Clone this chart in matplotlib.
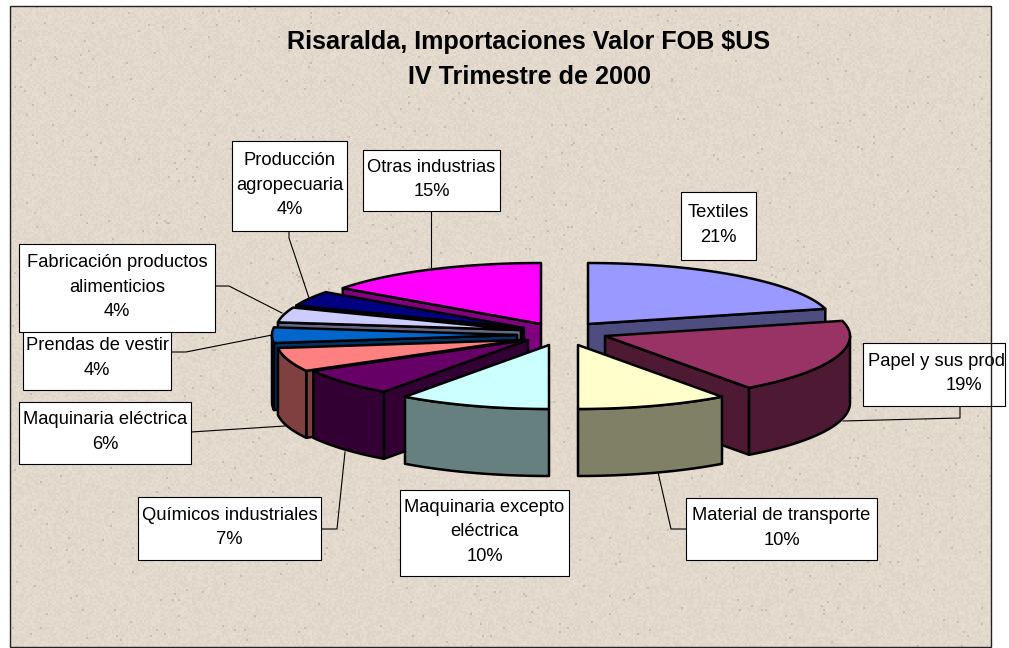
import numpy as np
import matplotlib
matplotlib.use("Agg")
import matplotlib.pyplot as plt
from matplotlib.patches import Polygon, Rectangle

plt.rcParams['font.family'] = ['Liberation Sans', 'DejaVu Sans']

# Data, clockwise from 12 o'clock
categories = ["Textiles", "Papel y sus prod", "Material de transporte",
              "Maquinaria excepto\neléctrica", "Químicos industriales",
              "Maquinaria eléctrica", "Prendas de vestir",
              "Fabricación productos\nalimenticios", "Producción\nagropecuaria",
              "Otras industrias"]
shares = [21, 19, 10, 10, 7, 6, 4, 4, 4, 15]

top_colors = ["#9999FF", "#993366", "#FFFFCC", "#CCFFFF", "#660066",
              "#FF8080", "#0066CC", "#CCCCFF", "#000080", "#FF00FF"]
side_colors = ["#4D4D80", "#4D1933", "#808066", "#668080", "#330033",
               "#804040", "#003366", "#666680", "#000040", "#800080"]

# Layout, in pixels of the 1009x648 picture
apex = [(588, 324), (605, 336), (578, 345), (549, 345), (528, 340),
        (521, 340), (517, 335), (521, 330), (524, 328), (541, 324)]
label_boxes = [(681, 192, 756, 260), (863, 343, 1005, 406), (686, 498, 877, 560),
               (400, 490, 569, 576), (138, 497, 321, 560), (19, 402, 191, 464),
               (23, 328, 171, 390), (19, 244, 215, 332), (232, 141, 347, 231),
               (363, 150, 500, 211)]
leaders = [None,
           [(843, 421), (960, 418), (960, 406)],
           [(658, 472), (671, 529), (686, 529)],
           None,
           [(345, 452), (337, 529), (321, 529)],
           [(285, 426), (191, 432)],
           [(272, 335), (186, 352), (171, 352)],
           [(282, 313), (229, 286), (215, 286)],
           [(309, 298), (289, 238), (289, 231)],
           [(431, 267), (431, 211)]]
draw_order = [0, 1, 2, 9, 8, 7, 6, 5, 4, 3]
RX, RY_BACK, RY_FRONT, DEPTH = 245, 61, 64, 67

fig = plt.figure(figsize=(10.09, 6.48), dpi=100, facecolor="white")
ax = fig.add_axes([0, 0, 1, 1])
ax.set_xlim(0, 1009)
ax.set_ylim(648, 0)
ax.axis("off")

# paper texture behind the chart
gy, gx = np.mgrid[0:321, 0:491]
grain = np.mod(np.sin(gx * 12.9898 + gy * 78.233) * 43758.5453, 1.0)
shade = 1.0 + (grain - 0.5) * 0.05
shade[grain > 0.994] = 0.88
texture = np.clip(np.dstack([shade * 227, shade * 217, shade * 204]) / 255, 0, 1)
ax.imshow(texture, extent=(10, 991, 647, 6), interpolation="nearest", aspect="auto", zorder=0)
ax.set_xlim(0, 1009)
ax.set_ylim(648, 0)


def rim(cx, cy, t):
    c = np.cos(t)
    return cx + RX * np.sin(t), cy - np.where(c > 0, RY_BACK, RY_FRONT) * c


for path in leaders:
    if path:
        ax.plot([q[0] for q in path], [q[1] for q in path], color="black", lw=0.8, zorder=1)

edges = np.radians(np.cumsum([0] + shares) * 3.6)
z = 2
LW = 1.8
for i in draw_order:
    a0, a1 = edges[i], edges[i + 1]
    cx, cy = apex[i]
    # radial wall that faces the viewer
    for a, show in ((a0, np.sin(a0) < -1e-6), (a1, np.sin(a1) > 1e-6)):
        if show:
            ex, ey = rim(cx, cy, a)
            wall = [(cx, cy), (ex, ey), (ex, ey + DEPTH), (cx, cy + DEPTH)]
            ax.add_patch(Polygon(wall, fc=side_colors[i], ec="black", lw=LW, joinstyle="round", zorder=z))
            z += 1
    # outer wall, front half only
    lo, hi = max(a0, np.pi / 2), min(a1, 3 * np.pi / 2)
    if hi > lo:
        t = np.linspace(lo, hi, 60)
        ox, oy = rim(cx, cy, t)
        outer = list(zip(ox, oy)) + list(zip(ox[::-1], oy[::-1] + DEPTH))
        ax.add_patch(Polygon(outer, fc=side_colors[i], ec="black", lw=LW, joinstyle="round", zorder=z))
        z += 1
    # top face
    t = np.linspace(a0, a1, 80)
    ox, oy = rim(cx, cy, t)
    top = [(cx, cy)] + list(zip(ox, oy))
    ax.add_patch(Polygon(top, fc=top_colors[i], ec="black", lw=LW, joinstyle="round", zorder=z))
    z += 1

# labels
z = 100
FS = 13.2
LINE = 24.7
for name, share, (x0, y0, x1, y1) in zip(categories, shares, label_boxes):
    ax.add_patch(Rectangle((x0, y0), x1 - x0, y1 - y0, fc="white", ec="black", lw=0.8, zorder=z))
    lines = name.split("\n") + [f"{share}%"]
    ym = (y0 + y1) / 2
    for k, s in enumerate(lines):
        xt = (x0 + x1) / 2
        if name.startswith("Papel"):
            # the long name is cut at the box edge, so the lines do not share a centre
            xt = 936 if k == 0 else 964
        ax.text(xt, ym + (k - (len(lines) - 1) / 2) * LINE - 1, s,
                ha="center", va="center", fontsize=FS, color="black", zorder=z + 1)

ax.text(529, 42, "Risaralda, Importaciones Valor FOB $US", ha="center", va="center",
        fontsize=18.1, fontweight="bold", zorder=z + 1)
ax.text(530, 77, "IV Trimestre de 2000", ha="center", va="center",
        fontsize=18.1, fontweight="bold", zorder=z + 1)

# chart frame goes over everything, the Papel box pokes through it
ax.add_patch(Rectangle((10, 6), 981, 641, fc="none", ec="#222222", lw=1.0, zorder=z + 2))

fig.savefig("out.png", dpi=100)
